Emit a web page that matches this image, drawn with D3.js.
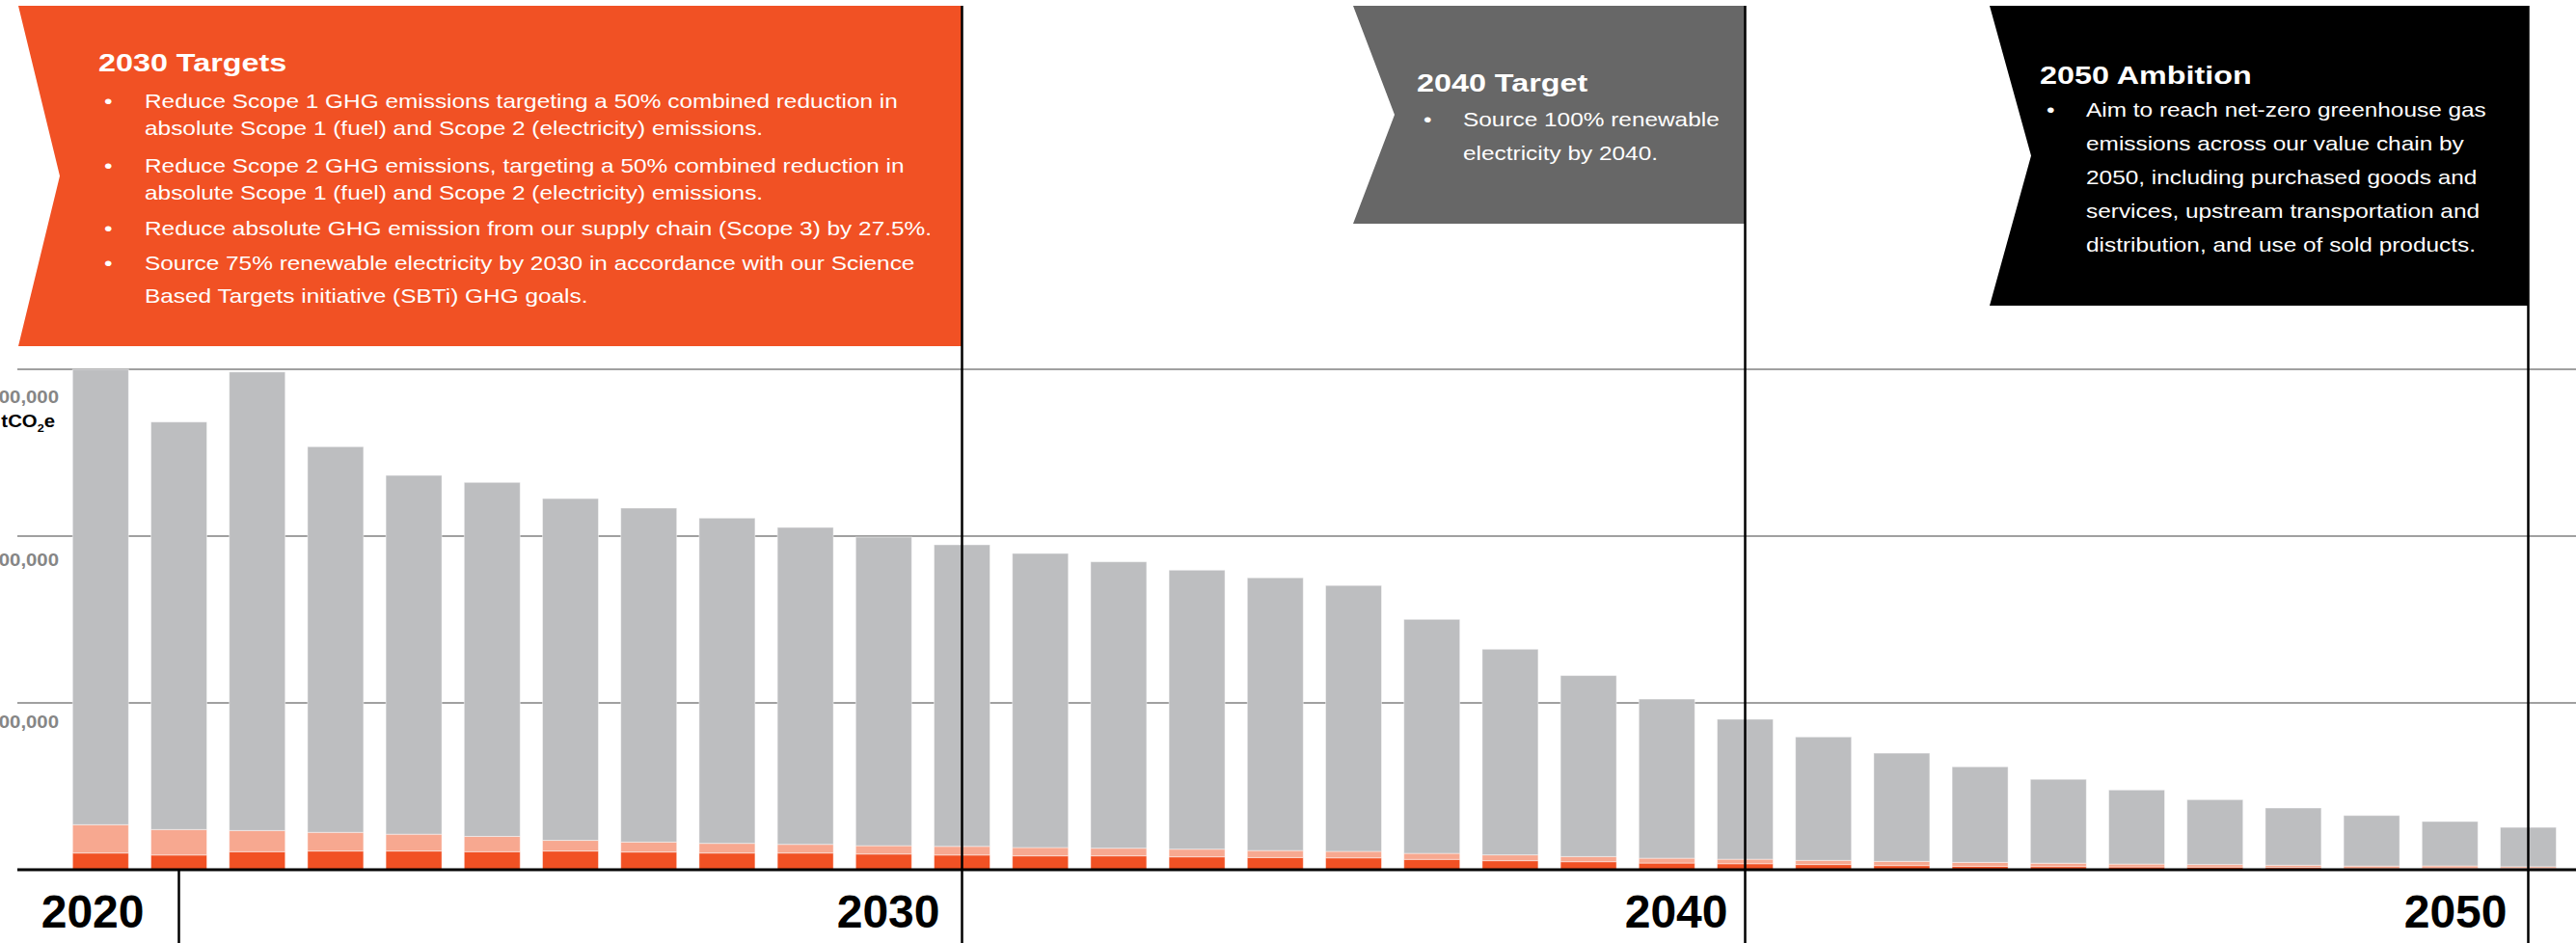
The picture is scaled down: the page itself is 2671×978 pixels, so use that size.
<!DOCTYPE html>
<html>
<head>
<meta charset="utf-8">
<script src="https://cdn.jsdelivr.net/npm/d3@7"></script>
<style>
  body { margin: 0; background: #fff; }
  svg { display: block; font-family: "Liberation Sans", Arial, sans-serif; }
</style>
</head>
<body>
<svg id="chart" width="2671" height="978"></svg>
<script>
// ---- data (tCO2e) ----
const years = ['2019','2020','2021','2022','2023','2024','2025','2026','2027','2028','2029','2030',
  '2031','2032','2033','2034','2035','2036','2037','2038','2039','2040',
  '2041','2042','2043','2044','2045','2046','2047','2048','2049','2050'];

// scope 1 (fuel) - dark orange
const scope1 = [10000, 8800, 10800, 11200, 11200, 10800, 11200, 10600, 10000, 10000, 9400, 8800,
  8300, 8300, 7700, 7300, 7100, 6200, 5400, 4800, 4000, 3600,
  3100, 2500, 2000, 1900, 1700, 1600, 1300, 500, 1000, 800];

// scope 2 (electricity) - light orange
const scope2 = [17000, 15300, 12700, 11200, 10100, 9200, 6400, 6000, 5800, 5200, 5000, 5200,
  5000, 4600, 4600, 4200, 3900, 3600, 3500, 3100, 2900, 2700,
  2500, 2500, 2400, 2000, 1700, 1500, 1400, 1700, 1300, 1000];

// scope 3 (value chain) - grey
const scope3 = [273000, 244300, 274900, 231200, 215100, 212200, 204900, 200200, 195000, 190000, 185000, 180800,
  176300, 171700, 167300, 163500, 159400, 140300, 123300, 108500, 95400, 83900,
  74000, 64900, 57300, 50300, 44400, 38900, 34300, 30300, 26600, 23600];

const yTicks = [100000, 200000, 300000];
const markerYears = ['2020', '2030', '2040', '2050'];

const targets2030 = [
  ['Reduce Scope 1 GHG emissions targeting a 50% combined reduction in',
   'absolute Scope 1 (fuel) and Scope 2 (electricity) emissions.'],
  ['Reduce Scope 2 GHG emissions, targeting a 50% combined reduction in',
   'absolute Scope 1 (fuel) and Scope 2 (electricity) emissions.'],
  ['Reduce absolute GHG emission from our supply chain (Scope 3) by 27.5%.'],
  ['Source 75% renewable electricity by 2030 in accordance with our Science',
   'Based Targets initiative (SBTi) GHG goals.']
];
const target2040 = [['Source 100% renewable', 'electricity by 2040.']];
const ambition2050 = [['Aim to reach net-zero greenhouse gas', 'emissions across our value chain by',
  '2050, including purchased goods and', 'services, upstream transportation and',
  'distribution, and use of sold products.']];

// ---- layout ----
const W = 2671, H = 978;
const colors = { scope1: '#F15124', scope2: '#F7A890', scope3: '#BDBEC0' };
const SX = 1.22; // horizontal stretch of the box text

const svg = d3.select('#chart');

const x = d3.scaleBand()
  .domain(years)
  .range([63.7, 2662.1])
  .paddingInner(0.2857)
  .paddingOuter(0.1429);

const y = d3.scaleLinear()
  .domain([0, 300000])
  .range([902, 383]);

// tick label baselines sit a little under each gridline
const yLabel = d3.scaleLinear()
  .domain([100000, 300000])
  .range([755, 418]);

const cx = (yr) => x(yr) + x.bandwidth() / 2;

// gridlines
svg.append('g')
  .selectAll('line')
  .data(yTicks)
  .join('line')
  .attr('x1', 18).attr('x2', W)
  .attr('y1', d => y(d)).attr('y2', d => y(d))
  .attr('stroke', '#808080')
  .attr('stroke-width', 1.6);

// tick labels (first digit runs off the left edge, as in the original)
svg.append('g')
  .selectAll('text')
  .data(yTicks)
  .join('text')
  .attr('transform', d => `translate(61,${yLabel(d)}) scale(1.1,1)`)
  .attr('text-anchor', 'end')
  .attr('font-size', 18.5)
  .attr('font-weight', 'bold')
  .attr('fill', '#868686')
  .text(d => d3.format(',')(d));

const unit = svg.append('text')
  .attr('transform', 'translate(57,443) scale(1.1,1)')
  .attr('text-anchor', 'end')
  .attr('font-size', 18.5)
  .attr('font-weight', 'bold')
  .attr('fill', '#000');
unit.append('tspan').text('tCO');
unit.append('tspan').attr('font-size', 11.5).attr('dy', 5).text('2');
unit.append('tspan').attr('dy', -5).text('e');

// stacked bars
const rows = years.map((yr, i) => ({ year: yr, scope1: scope1[i], scope2: scope2[i], scope3: scope3[i] }));
const series = d3.stack().keys(['scope1', 'scope2', 'scope3'])(rows);

svg.append('g')
  .selectAll('g')
  .data(series)
  .join('g')
  .attr('fill', d => colors[d.key])
  .selectAll('rect')
  .data(d => d)
  .join('rect')
  .attr('x', d => x(d.data.year))
  .attr('width', x.bandwidth())
  .attr('y', d => y(d[1]))
  .attr('height', d => y(d[0]) - y(d[1]))
  .attr('stroke', 'rgba(255,255,255,0.45)')
  .attr('stroke-width', 1);

// baseline
svg.append('line')
  .attr('x1', 18).attr('x2', W)
  .attr('y1', y(0)).attr('y2', y(0))
  .attr('stroke', '#000')
  .attr('stroke-width', 3);

// target panels
const panels = [
  { year: '2030', left: 19, top: 6, bottom: 359, fill: '#F15124', title: '2030 Targets', items: targets2030,
    titleX: 102, titleY: 74, bulletX: 108, textX: 150,
    lineY: [[111.5, 140], [178.5, 207], [244], [279.5, 314]] },
  { year: '2040', left: 1403, top: 6, bottom: 232, fill: '#676767', title: '2040 Target', items: target2040,
    titleX: 1469, titleY: 95, bulletX: 1476, textX: 1517,
    lineY: [[131, 165.5]] },
  { year: '2050', left: 2063, top: 6, bottom: 317, fill: '#000000', title: '2050 Ambition', items: ambition2050,
    titleX: 2115, titleY: 87, bulletX: 2122, textX: 2163,
    lineY: [[121, 156, 191, 226, 260.5]] }
];
const notch = 43;

panels.forEach(p => {
  const right = cx(p.year);
  const mid = (p.top + p.bottom) / 2;
  const g = svg.append('g');
  g.append('path')
    .attr('d', `M${p.left},${p.top}L${right},${p.top}L${right},${p.bottom}L${p.left},${p.bottom}L${p.left + notch},${mid}Z`)
    .attr('fill', p.fill);
  g.append('text')
    .attr('transform', `translate(${p.titleX},${p.titleY}) scale(${SX},1)`)
    .attr('font-size', 26.5)
    .attr('font-weight', 'bold')
    .attr('fill', '#fff')
    .text(p.title);
  p.items.forEach((lines, i) => {
    g.append('text')
      .attr('transform', `translate(${p.bulletX},${p.lineY[i][0]}) scale(${SX},1)`)
      .attr('font-size', 20)
      .attr('fill', '#fff')
      .text('\u2022');
    lines.forEach((ln, j) => {
      g.append('text')
        .attr('transform', `translate(${p.textX},${p.lineY[i][j]}) scale(${SX},1)`)
        .attr('font-size', 20)
        .attr('fill', '#fff')
        .text(ln);
    });
  });
});

// year markers
const labelGap = { '2020': 36, '2030': 23, '2040': 18, '2050': 22 };
svg.append('g')
  .selectAll('line')
  .data(markerYears)
  .join('line')
  .attr('x1', d => cx(d)).attr('x2', d => cx(d))
  .attr('y1', d => d === '2020' ? y(0) : 6)
  .attr('y2', H)
  .attr('stroke', '#000')
  .attr('stroke-width', 2.5);

svg.append('g')
  .selectAll('text')
  .data(markerYears)
  .join('text')
  .attr('x', d => cx(d) - labelGap[d])
  .attr('y', 962)
  .attr('text-anchor', 'end')
  .attr('font-size', 48)
  .attr('font-weight', 'bold')
  .attr('fill', '#000')
  .text(d => d);
</script>
</body>
</html>
